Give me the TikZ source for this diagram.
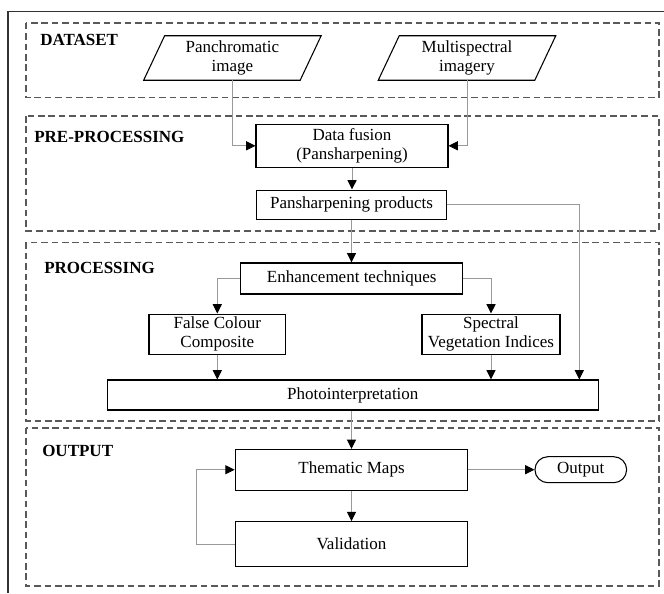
\documentclass[tikz,border=0pt]{standalone}
\usepackage{fontspec}
\setmainfont{Liberation Serif}
\usetikzlibrary{arrows.meta,calc}
\begin{document}
\begin{tikzpicture}[x=0.75pt,y=-0.75pt,
  font=\fontsize{12.75}{14}\selectfont,
  stepbox/.style={draw=black, line width=0.8pt, align=center, inner sep=0pt},
  databox/.style={align=center, inner sep=0pt, minimum width=117pt, minimum height=33pt},
  region/.style={draw=black!65, line width=1.2pt, dash pattern=on 5pt off 2.8pt},
  conn/.style={draw=black!40, line width=0.75pt, -{Triangle[length=7pt,width=6.8pt,color=black]}},
  lbl/.style={font=\fontsize{12.75}{14}\selectfont\bfseries, anchor=west, inner sep=0pt},
  frame/.style={draw=black!80, line width=0.9pt}]
\useasboundingbox (0,0) rectangle (664,593);

% outer frame (cropped)
\draw[frame] (664,11.5) -- (8,11.5) -- (8,593);

% regions
\draw[region] (26,22.7) rectangle (659,97.5);
\draw[region] (26,116) rectangle (659,230.7);
\draw[region] (26,242.3) rectangle (659,421);
\draw[region] (26,427.7) rectangle (659,586);

% region labels
\node[lbl] (ldata) at (40,39.5) {DATASET};
\node[lbl] (lpre) at (34,137) {PRE-PROCESSING};
\node[lbl] (lproc) at (44,268) {PROCESSING};
\node[lbl] (lout) at (42,451) {OUTPUT};

% data inputs (parallelograms)
\node[databox] (pan) at (232.4,58) {Panchromatic\\image};
\draw[line width=0.8pt] ($(pan.north west)+(10.5,0)$) -- ($(pan.north east)+(10.5,0)$)
  -- ($(pan.south east)+(-10.5,0)$) -- ($(pan.south west)+(-10.5,0)$) -- cycle;
\node[databox] (ms) at (467,58) {Multispectral\\imagery};
\draw[line width=0.8pt] ($(ms.north west)+(10.5,0)$) -- ($(ms.north east)+(10.5,0)$)
  -- ($(ms.south east)+(-10.5,0)$) -- ($(ms.south west)+(-10.5,0)$) -- cycle;

% process boxes
\node[stepbox, minimum width=144pt, minimum height=32.25pt] (df) at (352,145.8) {Data fusion\\(Pansharpening)};
\node[stepbox, minimum width=143pt, minimum height=22pt] (pp) at (351.5,204.7) {Pansharpening products};
\node[stepbox, minimum width=166.5pt, minimum height=23.25pt] (en) at (351.7,278.5) {Enhancement techniques};
\node[stepbox, minimum width=102.5pt, minimum height=30.25pt] (fc) at (217.3,334.2) {False Colour\\Composite};
\node[stepbox, minimum width=103.5pt, minimum height=30.25pt] (sv) at (491,334.2) {Spectral\\Vegetation Indices};
\node[stepbox, minimum width=368.25pt, minimum height=22.5pt] (pi) at (352.8,395) {Photointerpretation};
\node[stepbox, minimum width=174.5pt, minimum height=30.5pt] (tm) at (351.5,469.7) {Thematic Maps};
\node[stepbox, minimum width=174.5pt, minimum height=33.75pt] (va) at (351.5,544.2) {Validation};
\node[stepbox, minimum width=68.75pt, minimum height=19.5pt, rounded corners=9.7pt] (out) at (580.8,469.7) {Output};

\coordinate (rx) at (579.3,0);

% connectors
\draw[conn] (pan.south) |- (df.west);
\draw[conn] (ms.south) |- (df.east);
\draw[conn] (df.south) -- (df.south |- pp.north);
\draw[conn] (pp.south) -- (pp.south |- en.north);
\draw[conn] (pp.east) -| (rx |- pi.north);
\draw[conn] (en.west) -| (fc.north);
\draw[conn] (en.east) -| (sv.north);
\draw[conn] (fc.south) -- (fc.south |- pi.north);
\draw[conn] (sv.south) -- (sv.south |- pi.north);
\draw[conn] (pi.south -| tm.north) -- (tm.north);
\draw[conn] (tm.east) -- (out.west);
\draw[conn] (tm.south) -- (va.north);
\draw[conn] (va.west) -- ++(-37.7,0) |- (tm.west);
\end{tikzpicture}
\end{document}
